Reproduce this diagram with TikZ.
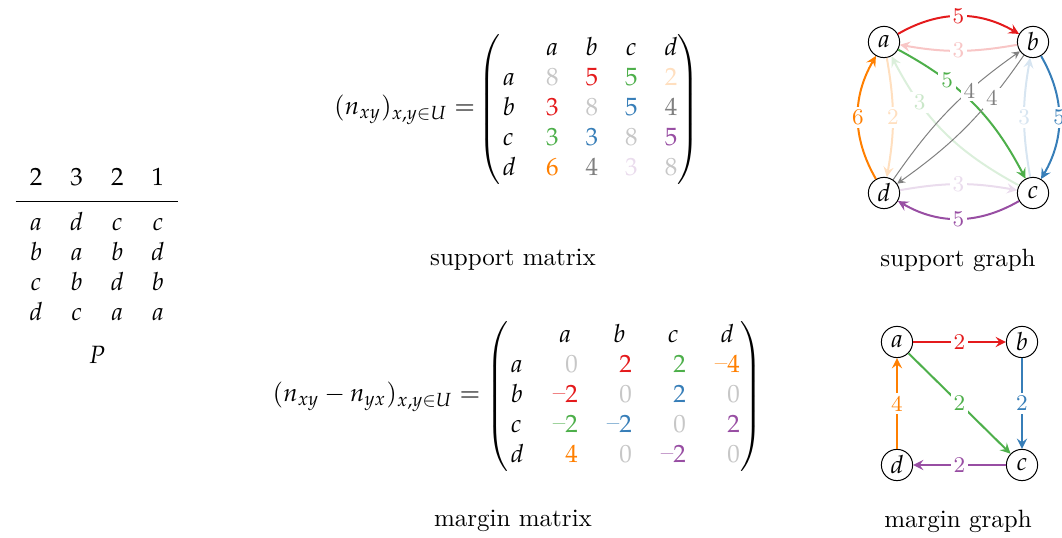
\documentclass[tikz,border=0pt]{standalone}
\usepackage{amsmath,amssymb}
\usepackage{mathpazo}
\usepackage{xcolor}
\usepackage{tikz}

\definecolor{setred}{HTML}{E41A1C}
\definecolor{setblue}{HTML}{377EB8}
\definecolor{setgreen}{HTML}{4DAF4A}
\definecolor{setpurple}{HTML}{984EA3}
\definecolor{setorange}{HTML}{FF7F00}
\colorlet{lgray}{black!22}
\newcommand{\ent}[2]{{\color{#1}#2}}
\newcommand{\mns}{\text{\raisebox{0.9pt}{--}}}

\begin{document}
\begin{tikzpicture}[x=0.4pt,y=-0.4pt]
\tikzstyle{vert} = [circle, draw, inner sep=0pt, minimum size=12.5pt]
\tikzstyle{arrow} = [thick,->,>=stealth]
\tikzstyle{lbl} = [fill=white, inner sep=1.2pt, font=\small]

\useasboundingbox (0,0) rectangle (1062,538);

% profile
\node (prof) [anchor=north, inner sep=0pt] at (97,164) {\arraycolsep=5.5pt
$\begin{array}{cccc}
2&3&2&1\\[2.5pt]
\hline\noalign{\vskip 3pt}
a&d&c&c\\
b&a&b&d\\
c&b&d&b\\
d&c&a&a
\end{array}$};
\node (P) at (97,355) {$P$};

% support matrix
\node (supmat) at (589,110) {\arraycolsep=5.4pt
$\left(\begin{array}{@{\hspace{1pt}}l@{\hspace{12pt}}cccc@{}}
 & a & b & c & d\\
a & \ent{lgray}{8} & \ent{setred}{5} & \ent{setgreen}{5} & \ent{setorange!25}{2}\\
b & \ent{setred}{3} & \ent{lgray}{8} & \ent{setblue}{5} & \ent{black!50}{4}\\
c & \ent{setgreen}{3} & \ent{setblue}{3} & \ent{lgray}{8} & \ent{setpurple}{5}\\
d & \ent{setorange}{6} & \ent{black!50}{4} & \ent{setpurple!20}{3} & \ent{lgray}{8}
\end{array}\right)$};
\node (suplhs) [anchor=east] at ([xshift=6pt]supmat.west) {$(n_{xy})_{x,y\in U} =$};
\node (supcap) at (513,260) {support matrix};

% margin matrix
\node (marmat) at (624,397) {\arraycolsep=5.8pt
$\left(\begin{array}{@{\hspace{1pt}}l@{\hspace{11.6pt}}rrrr@{}}
 & \multicolumn{1}{@{}c}{a} & \multicolumn{1}{c}{b} & \multicolumn{1}{c}{c} & \multicolumn{1}{c@{}}{d}\\
a & \ent{lgray}{0} & \ent{setred}{2} & \ent{setgreen}{2} & \ent{setorange}{\mns4}\\
b & \ent{setred}{\mns2} & \ent{lgray}{0} & \ent{setblue}{2} & \ent{lgray}{0}\\
c & \ent{setgreen}{\mns2} & \ent{setblue}{\mns2} & \ent{lgray}{0} & \ent{setpurple}{2}\\
d & \ent{setorange}{4} & \ent{lgray}{0} & \ent{setpurple}{\mns2} & \ent{lgray}{0}
\end{array}\right)$};
\node (marlhs) [anchor=east] at ([xshift=5pt]marmat.west) {$(n_{xy}-n_{yx})_{x,y\in U} =$};
\node (marcap) at (513,521) {margin matrix};

% support graph
\node (a) [vert] at (884,42) {$a$};
\node (b) [vert] at (1033,42) {$b$};
\node (c) [vert] at (1033,193) {$c$};
\node (d) [vert] at (884,193) {$d$};

\draw [arrow, setred] (a) to[bend left=30] node[lbl, text=setred] {5} (b);
\draw [arrow, setred!25] (b) to[bend left=10] node[lbl, text=setred!25] {3} (a);
\draw [arrow, setblue] (b) to[bend left=30] node[lbl, text=setblue] {5} (c);
\draw [arrow, setblue!20] (c) to[bend left=10] node[lbl, text=setblue!20] {3} (b);
\draw [arrow, setpurple] (c) to[bend left=30] node[lbl, text=setpurple] {5} (d);
\draw [arrow, setpurple!20] (d) to[bend left=10] node[lbl, text=setpurple!20] {3} (c);
\draw [arrow, setorange] (d) to[bend left=30] node[lbl, text=setorange] {6} (a);
\draw [arrow, setorange!25] (a) to[bend left=10] node[lbl, text=setorange!25] {2} (d);
\draw [arrow, setgreen!20] (c) to[bend left=17] node[lbl, text=setgreen!30, pos=0.72] {3} (a);
\draw [arrow, setgreen] (a) to[bend left=17] node[lbl, text=setgreen, pos=0.3] {5} (c);
\draw [arrow, thin, black!50] (d) to[bend left=10] node[lbl, text=black!50, pos=0.66] {4} (b);
\draw [arrow, thin, black!50] (b) to[bend left=10] node[lbl, text=black!50, pos=0.28] {4} (d);
\node (supgcap) at (958,260) {support graph};

% margin graph
\node (ma) [vert] at (897,342) {$a$};
\node (mb) [vert] at (1022,342) {$b$};
\node (mc) [vert] at (1022,465) {$c$};
\node (md) [vert] at (897,465) {$d$};

\draw [arrow, setred] (ma) -- node[lbl, text=setred] {2} (mb);
\draw [arrow, setblue] (mb) -- node[lbl, text=setblue] {2} (mc);
\draw [arrow, setgreen] (ma) -- node[lbl, text=setgreen] {2} (mc);
\draw [arrow, setpurple] (mc) -- node[lbl, text=setpurple] {2} (md);
\draw [arrow, setorange] (md) -- node[lbl, text=setorange] {4} (ma);
\node (margcap) at (958,521) {margin graph};

\end{tikzpicture}
\end{document}
